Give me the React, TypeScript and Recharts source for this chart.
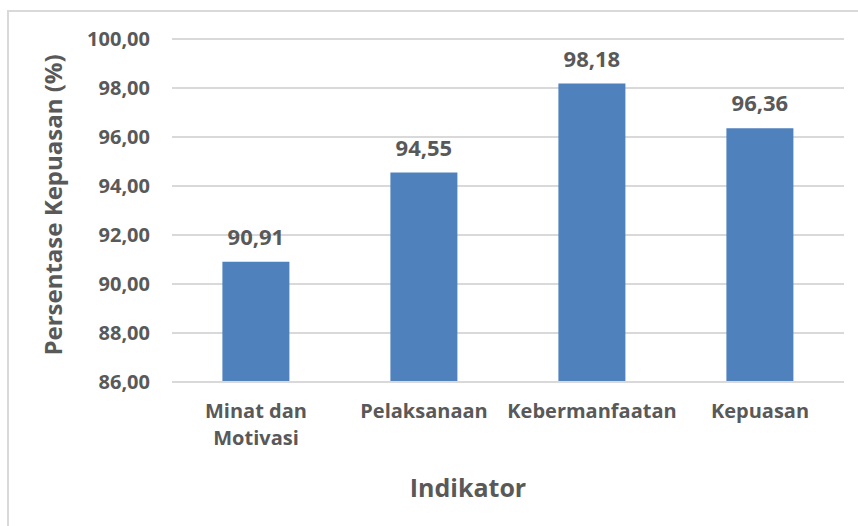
import React from 'react';
import { BarChart, Bar, XAxis, YAxis, CartesianGrid, LabelList } from 'recharts';

// data
const categories = ['Minat dan Motivasi', 'Pelaksanaan', 'Kebermanfaatan', 'Kepuasan'];
const values = [90.91, 94.55, 98.18, 96.36];
const yTicks = [86, 88, 90, 92, 94, 96, 98, 100];

const data = categories.map((name, i) => ({ name, value: values[i] }));

const FONT = '"Open Sans", sans-serif';
const TEXT = '#595959';
const fmt = (v: number) => v.toFixed(2).replace('.', ',');

const wrap = (label: string, max = 14) => {
  const lines: string[] = [];
  let cur = '';
  label.split(' ').forEach((w) => {
    if (cur && (cur + ' ' + w).length > max) {
      lines.push(cur);
      cur = w;
    } else {
      cur = cur ? cur + ' ' + w : w;
    }
  });
  if (cur) lines.push(cur);
  return lines;
};

const XTick = (props: any) => {
  const { x, y, payload } = props;
  const lines = wrap(payload.value);
  return (
    <text x={x} y={y} textAnchor="middle" fill={TEXT} fontFamily={FONT} fontWeight={700} fontSize={20}>
      {lines.map((l, i) => (
        <tspan key={i} x={x} dy={i === 0 ? 28 : 27}>
          {l}
        </tspan>
      ))}
    </text>
  );
};

export default function App() {
  return (
    <div style={{ position: 'absolute', left: 0, top: 0, width: 858, height: 526, overflow: 'hidden', background: '#fff' }}>
      <div style={{ position: 'absolute', left: 7, top: 10, width: 900, height: 600, border: '2px solid #d9d9d9' }} />
      <div style={{ position: 'absolute', left: 0, top: 0 }}>
        <BarChart width={858} height={526} data={data} margin={{ top: 39, right: 14, left: 0, bottom: 0 }} barCategoryGap="30%">
          <CartesianGrid vertical={false} stroke="#d9d9d9" strokeWidth={2} />
          <XAxis
            dataKey="name"
            height={144}
            tickLine={false}
            axisLine={{ stroke: '#d9d9d9', strokeWidth: 2 }}
            tick={<XTick />}
            interval={0}
            label={{
              content: () => (
                <text x={468} y={497} textAnchor="middle" fill={TEXT} fontFamily={FONT} fontWeight={700} fontSize={25}>
                  Indikator
                </text>
              ),
            }}
          />
          <YAxis
            width={172}
            domain={[86, 100]}
            ticks={yTicks}
            tickFormatter={fmt}
            tickLine={false}
            axisLine={false}
            tickMargin={16}
            tick={{ fill: TEXT, fontFamily: FONT, fontWeight: 700, fontSize: 20 }}
            label={{
              content: () => (
                <text
                  x={52}
                  y={205}
                  transform="rotate(-90, 52, 205)"
                  textAnchor="middle"
                  dominantBaseline="central"
                  fill={TEXT}
                  fontFamily={FONT}
                  fontWeight={700}
                  fontSize={24}
                >
                  Persentase Kepuasan (%)
                </text>
              ),
            }}
          />
          <Bar dataKey="value" fill="#4f81bd" isAnimationActive={false}>
            <LabelList
              dataKey="value"
              position="top"
              offset={17}
              formatter={(v: any) => fmt(Number(v))}
              fill={TEXT}
              fontFamily={FONT}
              fontWeight={700}
              fontSize={22}
            />
          </Bar>
        </BarChart>
      </div>
    </div>
  );
}
